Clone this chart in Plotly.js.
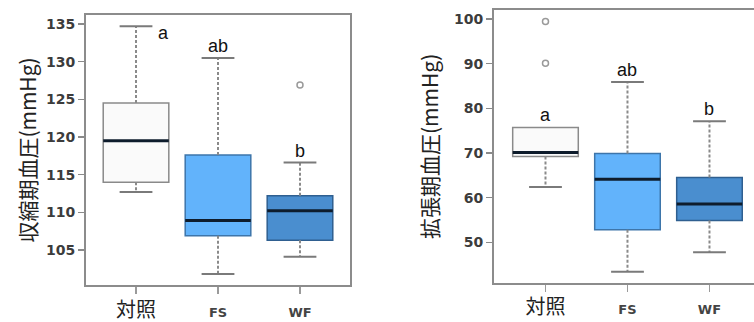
<!DOCTYPE html>
<html>
<head>
<meta charset="utf-8">
<script src="https://cdn.plot.ly/plotly-3.0.1.min.js"></script>
<style>html,body{margin:0;padding:0;background:#fff;}#chart{width:754px;height:322px;}</style>
</head>
<body>
<div id="chart"></div>
<script>
// ---- data ----
const groups = ['対照', 'FS', 'WF'];
const letters = ['a', 'ab', 'b'];

// Systolic (収縮期血圧)
const sysTitle = '収縮期血圧(mmHg)';
const sysLower = [112.7, 101.8, 104.1];
const sysQ1    = [114.0, 106.9, 106.3];
const sysMed   = [119.5, 108.9, 110.2];
const sysQ3    = [124.5, 117.6, 112.2];
const sysUpper = [134.7, 130.5, 116.6];
const sysOutX  = ['WF'];
const sysOutY  = [126.9];
const sysTicks = [105, 110, 115, 120, 125, 130, 135];

// Diastolic (拡張期血圧)
const diaTitle = '拡張期血圧(mmHg)';
const diaLower = [62.4, 43.4, 47.8];
const diaQ1    = [69.2, 52.8, 54.9];
const diaMed   = [70.1, 64.1, 58.6];
const diaQ3    = [75.7, 69.9, 64.5];
const diaUpper = [75.7, 85.9, 77.1];
const diaOutX  = ['対照', '対照'];
const diaOutY  = [99.4, 90.1];
const diaTicks = [50, 60, 70, 80, 90, 100];

// ---- styles ----
const fills = ['#fafafa', '#62b3fb', '#4a8ecf'];
const outlines = ['#8a8a8a', '#3d75aa', '#2f5f90'];
const frameColor = '#8c8c8c';
const halfBox = 0.4, halfCap = 0.2;

function panel(xa, ya, lower, q1, med, q3, upper, outX, outY) {
  const traces = [];
  const idx = groups.map((g, i) => i);
  idx.forEach(i => {
    traces.push({
      type: 'box', xaxis: xa, yaxis: ya, x: [i],
      q1: [q1[i]], median: [med[i]], q3: [q3[i]],
      lowerfence: [q1[i]], upperfence: [q3[i]],
      width: 2 * halfBox, whiskerwidth: 0,
      fillcolor: fills[i], line: {color: outlines[i], width: 1.5},
      hoverinfo: 'skip', showlegend: false
    });
  });
  // whiskers (dashed)
  const wx = [], wy = [];
  idx.forEach(i => {
    wx.push(i, i, null, i, i, null);
    wy.push(q3[i], upper[i], null, q1[i], lower[i], null);
  });
  traces.push({type: 'scatter', mode: 'lines', xaxis: xa, yaxis: ya, x: wx, y: wy,
    line: {color: '#8a8a8a', width: 2, dash: '3px,2px'}, hoverinfo: 'skip', showlegend: false});
  // caps
  const cx = [], cy = [];
  idx.forEach(i => {
    if (upper[i] !== q3[i]) { cx.push(i - halfCap, i + halfCap, null); cy.push(upper[i], upper[i], null); }
    cx.push(i - halfCap, i + halfCap, null); cy.push(lower[i], lower[i], null);
  });
  traces.push({type: 'scatter', mode: 'lines', xaxis: xa, yaxis: ya, x: cx, y: cy,
    line: {color: '#7a7a7a', width: 2}, hoverinfo: 'skip', showlegend: false});
  // medians
  const mx = [], my = [];
  idx.forEach(i => { mx.push(i - halfBox, i + halfBox, null); my.push(med[i], med[i], null); });
  traces.push({type: 'scatter', mode: 'lines', xaxis: xa, yaxis: ya, x: mx, y: my,
    line: {color: '#0e1c2c', width: 3}, hoverinfo: 'skip', showlegend: false});
  // outliers
  traces.push({type: 'scatter', mode: 'markers', xaxis: xa, yaxis: ya,
    x: outX.map(g => groups.indexOf(g)), y: outY,
    marker: {symbol: 'circle-open', size: 6, color: '#9a9a9a', line: {width: 1.5, color: '#9a9a9a'}},
    hoverinfo: 'skip', showlegend: false});
  return traces;
}

const data = [].concat(
  panel('x', 'y', sysLower, sysQ1, sysMed, sysQ3, sysUpper, sysOutX, sysOutY),
  panel('x2', 'y2', diaLower, diaQ1, diaMed, diaQ3, diaUpper, diaOutX, diaOutY)
);

const tickText = groups.map(g => /^[A-Za-z]+$/.test(g) ? g :
  '<span style="font-family:\'Noto Sans CJK JP\';font-size:20px;font-weight:normal;fill:#222">' + g + '</span>');

const xBase = {
  tickmode: 'array', tickvals: groups.map((g, i) => i), ticktext: tickText,
  showline: true, linecolor: frameColor, linewidth: 2, mirror: true,
  ticks: 'outside', ticklen: 7, tickwidth: 1.5, tickcolor: '#9a9a9a',
  ticklabelstandoff: 7,
  showgrid: false, zeroline: false, fixedrange: true,
  tickfont: {family: 'DejaVu Sans', size: 13, weight: 'bold', color: '#444'}
};
const yBase = {
  showline: true, linecolor: frameColor, linewidth: 2,
  ticks: 'outside', ticklen: 6, tickwidth: 1.5, tickcolor: '#8a8a8a',
  showgrid: false, zeroline: false, fixedrange: true,
  tickfont: {family: 'DejaVu Sans', size: 14, weight: 'bold', color: '#3c3c3c'}
};
const titleFont = {family: 'Noto Sans CJK JP', size: 21, color: '#222'};

function letterAnns(xa, ya, upper, special) {
  return letters.map((t, i) => Object.assign({
    xref: xa, yref: ya, x: i, y: upper[i], text: t, showarrow: false,
    xanchor: 'center', yanchor: 'bottom', yshift: 0,
    font: {family: 'Liberation Sans', size: 18, color: '#111'}
  }, special && special[i] ? special[i] : {}));
}

const layout = {
  width: 754, height: 322,
  margin: {l: 0, r: 0, t: 0, b: 0},
  paper_bgcolor: '#fff', plot_bgcolor: '#fff',
  showlegend: false, hovermode: false,
  xaxis: Object.assign({}, xBase, {domain: [86 / 754, 350 / 754], range: [-0.61, 2.61], anchor: 'y'}),
  yaxis: Object.assign({}, yBase, {domain: [1 - 285 / 322, 1 - 15 / 322], range: [100.35, 136.2],
    tickvals: sysTicks, mirror: true, anchor: 'x',
    title: {text: sysTitle, font: titleFont, standoff: 4}}),
  xaxis2: Object.assign({}, xBase, {domain: [494 / 754, 1], range: [-0.628, 2.543], anchor: 'y2'}),
  yaxis2: Object.assign({}, yBase, {domain: [1 - 282.7 / 322, 1 - 10 / 322], range: [40.96, 102.0],
    tickvals: diaTicks, mirror: false, anchor: 'x2',
    title: {text: diaTitle, font: titleFont, standoff: 10}}),
  annotations: [].concat(
    letterAnns('x', 'y', sysUpper, {0: {xanchor: 'left', yanchor: 'middle', xshift: 20, yshift: -7}}),
    letterAnns('x2', 'y2', diaUpper, null)
  )
};

Plotly.newPlot('chart', data, layout, {staticPlot: true, displayModeBar: false});
</script>
</body>
</html>
